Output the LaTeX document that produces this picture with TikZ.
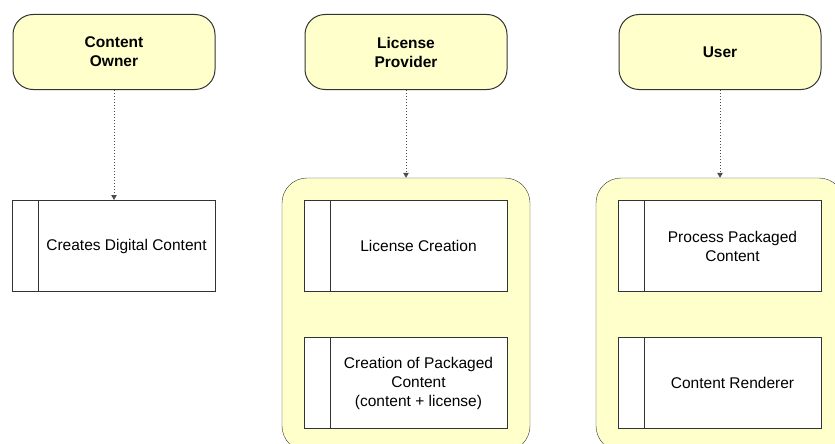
\documentclass[tikz,border=0pt]{standalone}
\usepackage{fontspec}
\setmainfont{Liberation Sans}
\usetikzlibrary{positioning,fit,backgrounds,arrows.meta}
\definecolor{paleyellow}{RGB}{255,255,204}

\begin{document}
\begin{tikzpicture}[x=1pt, y=-1pt, node distance={110pt}, line width=1pt,
        font=\fontsize{15.5}{19}\selectfont,
        actor/.style = {draw=black!80, fill=paleyellow, rounded corners=20pt, minimum width=202pt, minimum height=75pt, align=center, font=\fontsize{15.5}{19}\selectfont\bfseries},
        lane/.style = {draw=black!80, fill=paleyellow, rounded corners=25pt, inner sep=22pt},
        task/.style = {draw=black!80, fill=white, minimum height=91pt, inner sep=4pt,
            execute at begin node={\hspace*{25pt}\begin{minipage}{170pt}\centering},
            execute at end node={\end{minipage}},
            path picture={\draw[black!80] ([xshift=26pt]path picture bounding box.north west) -- ([xshift=26pt]path picture bounding box.south west);}},
        flow/.style = {dotted, draw=black!70, -{Triangle[length=5pt, width=5.5pt]}}]
        \useasboundingbox (0,0) rectangle (835,444);
        \clip (0,0) rectangle (835,444);

        \node[actor] (owner) at (114,52) {Content\\Owner};
        \node[actor] (provider) at (406,52) {License\\Provider};
        \node[actor] (user) at (720,52) {User};

        \node[task] (digital) [below=of owner] {Creates Digital Content};
        \node[task] (licence) [below=of provider] {License Creation};
        \node[task] (packaging) [below=45pt of licence] {Creation of Packaged\\Content\\(content + license)};
        \node[task] (process) [below=of user] {Process Packaged\\Content};
        \node[task] (renderer) [below=45pt of process] {Content Renderer};

        \begin{scope}[on background layer]
            \node[lane, fit=(licence)(packaging)] (providerlane) {};
            \node[lane, fit=(process)(renderer)] (userlane) {};
        \end{scope}

        \draw[flow] (owner) -- (digital);
        \draw[flow] (provider) -- (providerlane);
        \draw[flow] (user) -- (userlane);
    \end{tikzpicture}
\end{document}
